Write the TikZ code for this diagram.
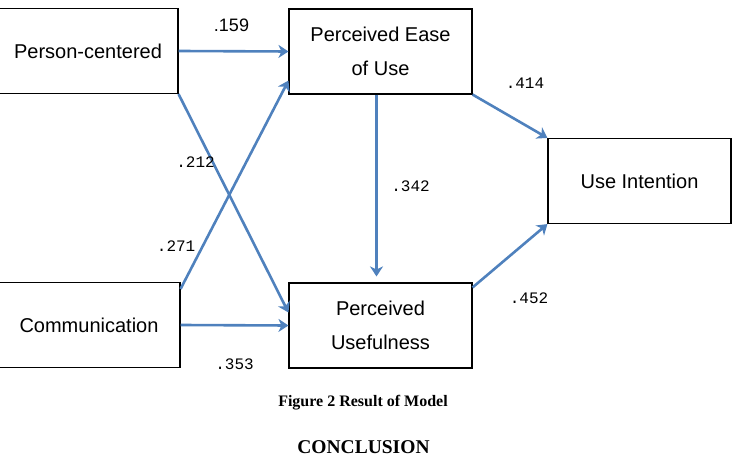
\documentclass[tikz,border=0pt]{standalone}
\usepackage{fontspec}
\setmainfont{Liberation Serif}
\newfontfamily\boxfont{Liberation Sans}
\newfontfamily\numfont{Liberation Mono}
\usetikzlibrary{arrows.meta}
\definecolor{pathBlue}{RGB}{79,129,189}

\begin{document}
\begin{tikzpicture}[
  x=1bp,y=-1bp,
  construct/.style={
    draw,
    line width=1.1bp,
    minimum width=183bp,
    minimum height=85bp,
    inner sep=0pt,
    align=center,
    font=\boxfont\fontsize{20bp}{34bp}\selectfont
  },
  arrow/.style={-{Stealth[length=10bp,width=13bp,inset=3bp]},line width=2.6bp,pathBlue},
  weight/.style={font=\numfont\fontsize{16bp}{18bp}\selectfont,inner sep=0pt,text=black}
]
  \clip (0,0) rectangle (735,458);

  \node[construct,minimum width=180bp] (person) at (88,51) {Person-centered};
  \node[construct,minimum width=182bp] (comm) at (89,325) {Communication};
  \node[construct] (ease) at (380.5,51.5) {Perceived Ease\\of Use};
  \node[construct] (useful) at (380.5,325.5) {Perceived\\Usefulness};
  \node[construct] (intent) at (639.5,181) {Use Intention};

  \draw[arrow] (person.east) --
    node[weight,font=\boxfont\fontsize{18bp}{20bp}\selectfont,xshift=-2bp,yshift=26bp]{.159} (ease.west);
  \draw[arrow] (person.south east) --
    node[weight,pos=0.3,xshift=-16bp,yshift=-3bp]{.212} ([yshift=13bp]useful.west);
  \draw[arrow] ([yshift=-7bp]comm.north east) --
    node[weight,pos=0.2,xshift=-26bp,yshift=1bp]{.271} ([yshift=14bp]ease.south west);
  \draw[arrow] (comm.east) --
    node[weight,yshift=-39bp]{.353} (useful.west);
  \draw[arrow] ([xshift=-4bp]ease.south) --
    node[weight,xshift=34bp,yshift=-1bp]{.342} ([xshift=-4bp,yshift=6bp]useful.north);
  \draw[arrow] (ease.south east) --
    node[weight,pos=0.7,yshift=42bp]{.414} (intent.north west);
  \draw[arrow] ([yshift=-5bp]useful.north east) --
    node[weight,xshift=19bp,yshift=-42bp]{.452} (intent.south west);

  % caption below the model
  \node[font=\bfseries\fontsize{16bp}{18bp}\selectfont] (caption) at (363,403) {Figure 2 Result of Model};
  \node[font=\bfseries\fontsize{19.5bp}{22bp}\selectfont] (heading) at (363.5,447) {CONCLUSION};
\end{tikzpicture}
\end{document}
